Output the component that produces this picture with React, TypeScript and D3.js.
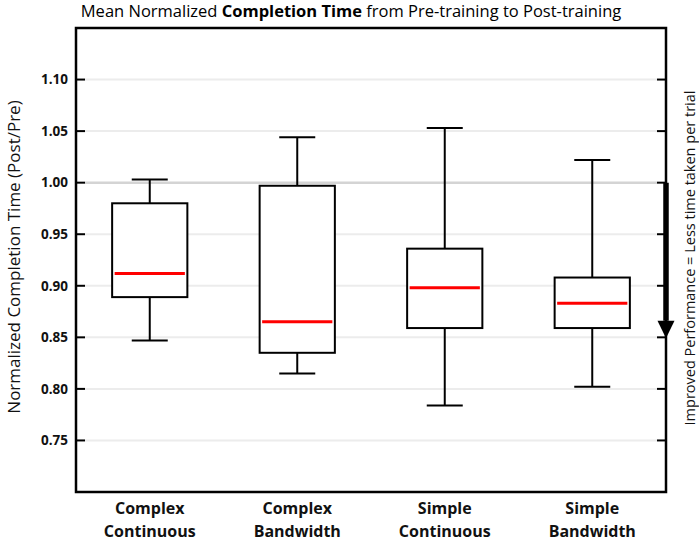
import React from 'react';
import * as d3 from 'd3';

// Box statistics
const categories = ['Complex Continuous', 'Complex Bandwidth', 'Simple Continuous', 'Simple Bandwidth'];
const whiskerLow = [0.847, 0.815, 0.784, 0.802];
const q1 = [0.889, 0.835, 0.859, 0.859];
const median = [0.912, 0.865, 0.898, 0.883];
const q3 = [0.980, 0.997, 0.936, 0.908];
const whiskerHigh = [1.003, 1.044, 1.053, 1.022];
const yTicks = [0.75, 0.8, 0.85, 0.9, 0.95, 1.0, 1.05, 1.1];

const width = 699;
const height = 542;
const margin = { top: 28, right: 33, bottom: 50, left: 76 };
const font = '"Open Sans", sans-serif';

export default function App() {
  const x = d3.scaleBand<string>()
    .domain(categories)
    .range([margin.left, width - margin.right])
    .paddingInner(0)
    .paddingOuter(0);

  const y = d3.scaleLinear()
    .domain([0.7, 1.15])
    .range([height - margin.bottom, margin.top]);

  const boxW = x.bandwidth() * 0.51;
  const capW = 36;
  const x0 = margin.left;
  const x1 = width - margin.right;

  const boxes = categories.map((c, i) => ({
    name: c,
    cx: (x(c) ?? 0) + x.bandwidth() / 2,
    lo: whiskerLow[i], q1: q1[i], med: median[i], q3: q3[i], hi: whiskerHigh[i],
  }));

  return (
    <svg width={width} height={height} style={{ position: 'absolute', left: 0, top: 0, background: '#fff' }}>
      {/* title */}
      <text x={351} y={17} textAnchor="middle" fontFamily={font} fontSize={16.5} fill="#000">
        Mean Normalized <tspan fontWeight="bold">Completion Time</tspan> from Pre-training to Post-training
      </text>

      {/* grid */}
      {yTicks.map(t => (
        <line key={`g${t}`} x1={x0 + 9} x2={x1 - 9} y1={y(t)} y2={y(t)}
          stroke={t === 1.0 ? '#d4d4d4' : '#ececec'} strokeWidth={t === 1.0 ? 2.5 : 2} />
      ))}

      {/* ticks both sides */}
      {yTicks.map(t => (
        <g key={`t${t}`}>
          <line x1={x0} x2={x0 + 9} y1={y(t)} y2={y(t)} stroke="#000" strokeWidth={2} />
          <line x1={x1 - 9} x2={x1} y1={y(t)} y2={y(t)} stroke="#000" strokeWidth={2} />
          <text x={x0 - 8} y={y(t)} dy="0.35em" textAnchor="end" fontFamily={font}
            fontWeight="bold" fontSize={13.5} fill="#111">{d3.format('.2f')(t)}</text>
        </g>
      ))}

      {/* boxes */}
      {boxes.map(b => (
        <g key={b.name} stroke="#000" strokeWidth={2}>
          <line x1={b.cx} x2={b.cx} y1={y(b.hi)} y2={y(b.q3)} />
          <line x1={b.cx} x2={b.cx} y1={y(b.q1)} y2={y(b.lo)} />
          <line x1={b.cx - capW / 2} x2={b.cx + capW / 2} y1={y(b.hi)} y2={y(b.hi)} />
          <line x1={b.cx - capW / 2} x2={b.cx + capW / 2} y1={y(b.lo)} y2={y(b.lo)} />
          <rect x={b.cx - boxW / 2} y={y(b.q3)} width={boxW} height={y(b.q1) - y(b.q3)} fill="#fff" />
          <line x1={b.cx - boxW / 2 + 2.5} x2={b.cx + boxW / 2 - 2.5} y1={y(b.med)} y2={y(b.med)}
            stroke="#ff0000" strokeWidth={3} />
        </g>
      ))}

      {/* frame */}
      <rect x={x0} y={margin.top} width={x1 - x0} height={height - margin.bottom - margin.top}
        fill="none" stroke="#000" strokeWidth={2.5} />

      {/* improvement arrow */}
      <line x1={x1} x2={x1} y1={y(1.0)} y2={y(0.866)} stroke="#000" strokeWidth={5.5} />
      <path d={`M${x1 - 8.5},${y(0.866)} L${x1 + 8.5},${y(0.866)} L${x1},${y(0.849)} Z`} fill="#000" />

      {/* category labels */}
      {boxes.map(b => {
        const [l1, l2] = b.name.split(' ');
        return (
          <text key={`l${b.name}`} x={b.cx} textAnchor="middle" fontFamily={font}
            fontWeight="bold" fontSize={16} fill="#111">
            <tspan x={b.cx} y={514}>{l1}</tspan>
            <tspan x={b.cx} y={537}>{l2}</tspan>
          </text>
        );
      })}

      {/* y axis label */}
      <text transform={`translate(20,${257}) rotate(-90)`} textAnchor="middle" fontFamily={font}
        fontSize={17} fill="#111">Normalized Completion Time (Post/Pre)</text>

      {/* right annotation */}
      <text transform={`translate(695,${258}) rotate(-90)`} textAnchor="middle" fontFamily={font}
        fontSize={14.5} fill="#111">Improved Performance = Less time taken per trial</text>
    </svg>
  );
}
